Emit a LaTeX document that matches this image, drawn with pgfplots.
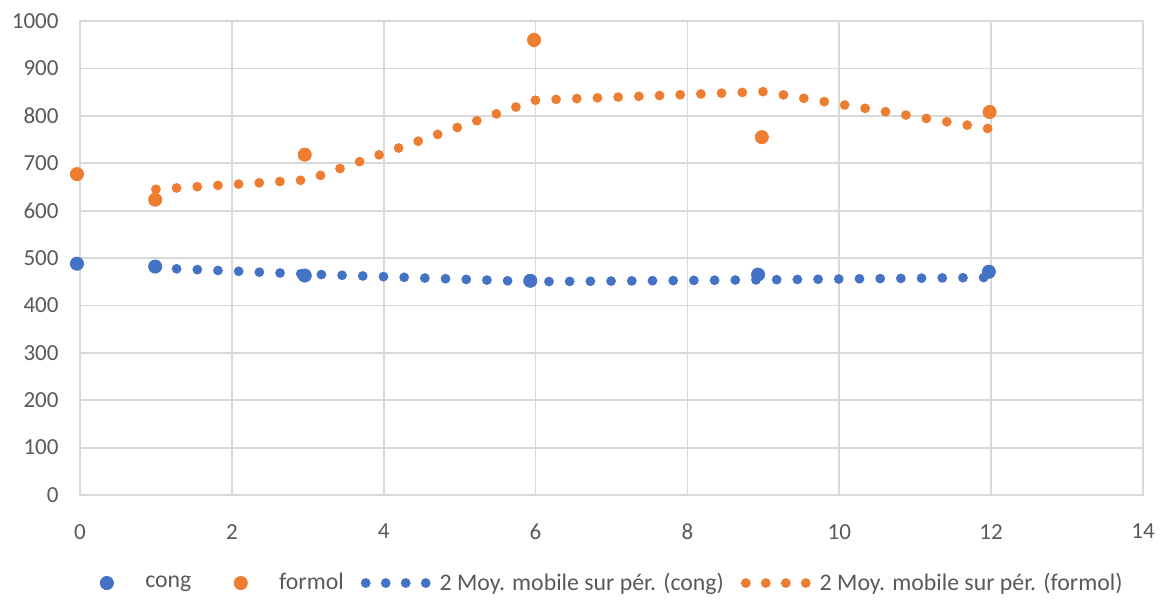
\documentclass[border=0pt]{standalone}
\usepackage{fontspec}
\setmainfont{Carlito}
\usepackage{pgfplots}
\pgfplotsset{compat=1.18}

\definecolor{xlblue}{HTML}{4472C4}
\definecolor{xlorange}{HTML}{ED7D31}
\definecolor{xltext}{HTML}{595959}
\definecolor{xlgrid}{HTML}{D9D9D9}

\pgfplotsset{
  pointstyle/.style={
    only marks, mark=*, mark size=3.3pt,
    legend image code/.code={
      \path (-18.5pt,0pt) (17pt,0pt);
      \draw[##1] plot coordinates {(0pt,0pt)};
    }
  },
  mastyle/.style={
    no marks, line width=4.9pt, line cap=round,
    dash pattern=on 0pt off 10.35pt,
    legend image code/.code={
      \path (-2.5pt,0pt) (32.5pt,0pt);
      \draw[##1, dash pattern=on 0pt off 10pt] (0pt,0pt) -- (30.5pt,0pt);
    }
  },
}

\begin{document}
\begin{tikzpicture}
\begin{axis}[
    scale only axis,
    width=531.5pt,
    height=237pt,
    xmin=0, xmax=14,
    ymin=0, ymax=1000,
    xtick={0,2,...,14},
    ytick={0,100,...,1000},
    grid=major,
    major grid style={xlgrid, line width=0.9pt},
    axis line style={xlgrid, line width=0.9pt},
    major tick length=0pt,
    clip=false,
    font=\fontsize{11.5}{13}\selectfont,
    /pgf/number format/assume math mode=true,
    /pgf/number format/1000 sep={},
    ticklabel style={text=xltext},
    xticklabel style={yshift=-11pt},
    yticklabel style={xshift=-7.2pt},
    legend columns=4,
    legend cell align=left,
    legend style={
      at={(rel axis cs:-0.0103,-0.1857)}, anchor=west,
      draw=none, fill=none, inner xsep=0pt, inner ysep=0pt,
      text=xltext, font=\fontsize{11.9}{13}\selectfont,
      /tikz/every even column/.append style={column sep=4pt},
    },
]
\coordinate (ll) at (rel axis cs:0,0);
\coordinate (ur) at (rel axis cs:1,1);

\addplot[pointstyle, color=xlblue] coordinates {
  (-0.04,488) (0.99,482) (2.96,463) (5.93,452) (8.93,465) (11.97,471)
};
\addlegendentry{cong}

\addplot[pointstyle, color=xlorange] coordinates {
  (-0.04,677) (0.99,623) (2.96,718) (5.98,960) (8.98,755) (11.98,808)
};
\addlegendentry{formol}

% moyennes mobiles (periode 2)
\addplot[mastyle, color=xlblue] coordinates {
  (1,479) (3,466) (6,450) (9,454) (12,459)
};
\addlegendentry{2 Moy. mobile sur pér. (cong)}

\addplot[mastyle, color=xlorange] coordinates {
  (1,645) (3,665) (6,833) (9,851) (12,772)
};
\addlegendentry{2 Moy. mobile sur pér. (formol)}
\end{axis}
\pgfresetboundingbox
\useasboundingbox ([shift={(-40pt,-53pt)}]ll) rectangle ([shift={(8.5pt,10.5pt)}]ur);
\end{tikzpicture}
\end{document}
